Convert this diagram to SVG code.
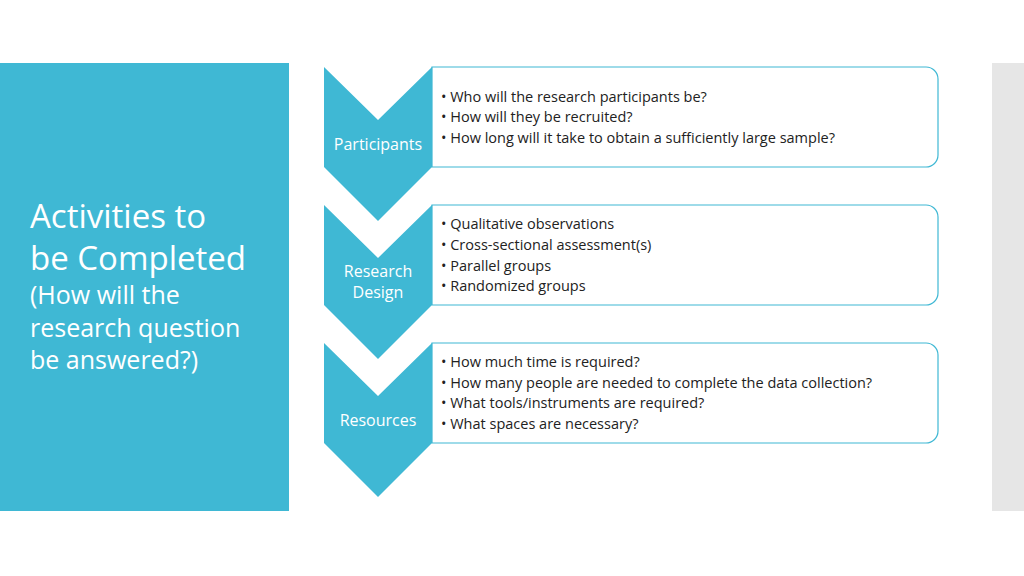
<svg xmlns="http://www.w3.org/2000/svg" width="1024" height="576" viewBox="0 0 1024 576">
<style>
.ch{fill:#3FB8D4}
.bx{fill:#fff;stroke:#3FB8D4;stroke-width:1.2}
.lb{font-family:"Open Sans","Liberation Sans",sans-serif;font-size:16px;fill:#fff;text-anchor:middle}
.it{font-family:"Open Sans","Liberation Sans",sans-serif;font-size:14.5px;fill:#222}
.tt{font-family:"Open Sans","Liberation Sans",sans-serif;fill:#fff}
</style>
<rect width="1024" height="576" fill="#fff"/>
<rect x="0" y="63" width="289" height="448" fill="#3FB8D4"/>
<rect x="992" y="63" width="32" height="448" fill="#e6e6e6"/>
<text class="tt" font-size="33" x="30" y="228">Activities to</text>
<text class="tt" font-size="33" x="30" y="270">be Completed</text>
<text class="tt" font-size="25" x="30" y="304">(How will the</text>
<text class="tt" font-size="25" x="30" y="337">research question</text>
<text class="tt" font-size="25" x="30" y="369">be answered?)</text>
<g id="n1">
<path class="bx" d="M432,67H926a12,12 0 0 1 12,12V155a12,12 0 0 1 -12,12H432Z"/>
<path class="ch" d="M324,67L378,120L432,67V167L378,221L324,167Z"/>
<text class="lb" x="378" y="150">Participants</text>
<text class="it" x="441" y="102">• Who will the research participants be?</text>
<text class="it" x="441" y="122">• How will they be recruited?</text>
<text class="it" x="441" y="143">• How long will it take to obtain a sufficiently large sample?</text>
</g>
<g id="n2">
<path class="bx" d="M432,205H926a12,12 0 0 1 12,12V293a12,12 0 0 1 -12,12H432Z"/>
<path class="ch" d="M324,205L378,258L432,205V305L378,359L324,305Z"/>
<text class="lb" x="378" y="277">Research</text>
<text class="lb" x="378" y="298">Design</text>
<text class="it" x="441" y="229">• Qualitative observations</text>
<text class="it" x="441" y="250">• Cross-sectional assessment(s)</text>
<text class="it" x="441" y="271">• Parallel groups</text>
<text class="it" x="441" y="291">• Randomized groups</text>
</g>
<g id="n3">
<path class="bx" d="M432,343H926a12,12 0 0 1 12,12V431a12,12 0 0 1 -12,12H432Z"/>
<path class="ch" d="M324,343L378,396L432,343V443L378,497L324,443Z"/>
<text class="lb" x="378" y="426">Resources</text>
<text class="it" x="441" y="367">• How much time is required?</text>
<text class="it" x="441" y="388">• How many people are needed to complete the data collection?</text>
<text class="it" x="441" y="408">• What tools/instruments are required?</text>
<text class="it" x="441" y="429">• What spaces are necessary?</text>
</g>
<g id="connectors"></g>
</svg>
